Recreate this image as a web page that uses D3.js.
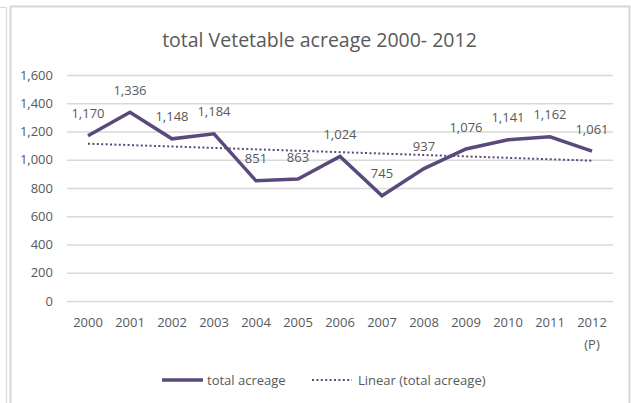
<!DOCTYPE html>
<html>
<head>
<meta charset="utf-8">
<script src="https://cdn.jsdelivr.net/npm/d3@7"></script>
<style>
  html, body { margin: 0; padding: 0; background: #fff; }
  svg { display: block; font-family: "Open Sans", "Noto Sans", sans-serif; }
</style>
</head>
<body>
<svg id="chart" width="631" height="403"></svg>
<script>
// Vegetable acreage by year (thousand acres); 2012 is preliminary
const years = ["2000", "2001", "2002", "2003", "2004", "2005", "2006",
               "2007", "2008", "2009", "2010", "2011", "2012"];
const acreage = [1170, 1336, 1148, 1184, 851, 863, 1024, 745, 937, 1076, 1141, 1162, 1061];
const yearLabels = [["2000"], ["2001"], ["2002"], ["2003"], ["2004"], ["2005"], ["2006"],
                    ["2007"], ["2008"], ["2009"], ["2010"], ["2011"], ["2012", "(P)"]];
const yTicks = [0, 200, 400, 600, 800, 1000, 1200, 1400, 1600];
const titleText = "total Vetetable acreage 2000- 2012";
const seriesName = "total acreage";
const trendName = "Linear (total acreage)";

const lineColor = "#5a4a7c";
const textColor = "#595959";
const gridColor = "#d9d9d9";

const svg = d3.select("#chart");

// Surrounding frames
svg.append("path")
  .attr("d", "M0,7.5 H6.5 V403")
  .attr("fill", "none").attr("stroke", "#d9d9d9").attr("stroke-width", 1.2);
svg.append("path")
  .attr("d", "M10.5,403 V6.5 H629.5 V403")
  .attr("fill", "none").attr("stroke", "#d6d6d6").attr("stroke-width", 2);

const x = d3.scaleBand().domain(years).range([67, 613]);
const y = d3.scaleLinear().domain([0, 1600]).range([301, 75]);
const cx = d => x(d) + x.bandwidth() / 2;

// Title
svg.append("text")
  .attr("x", 319.5).attr("y", 47)
  .attr("text-anchor", "middle")
  .attr("font-size", 19.5)
  .attr("fill", textColor)
  .text(titleText);

// Y axis with gridlines
const yAxis = svg.append("g")
  .attr("transform", "translate(67,0)")
  .call(d3.axisLeft(y).tickValues(yTicks).tickFormat(d3.format(","))
        .tickSize(-(613 - 67)).tickPadding(14));
yAxis.select(".domain").remove();
yAxis.selectAll(".tick line").attr("stroke", gridColor).attr("stroke-width", 1.3);
yAxis.selectAll(".tick text")
  .attr("fill", textColor).attr("font-size", 13)
  .attr("font-family", "\"Open Sans\", \"Noto Sans\", sans-serif");

// X axis category labels
const xAxis = svg.append("g")
  .attr("transform", "translate(0,301)")
  .call(d3.axisBottom(x).tickSize(0).tickFormat(() => ""));
xAxis.select(".domain").remove();
xAxis.selectAll(".tick").each(function(d, i) {
  const t = d3.select(this).select("text")
    .attr("fill", textColor).attr("font-size", 13)
    .attr("font-family", "\"Open Sans\", \"Noto Sans\", sans-serif")
    .attr("y", 0).attr("dy", null);
  yearLabels[i].forEach((line, k) => {
    t.append("tspan").attr("x", 0).attr("y", 25.5 + k * 22.5).text(line);
  });
});

// Least-squares trendline over the series
const idx = acreage.map((_, i) => i);
const mx = d3.mean(idx), my = d3.mean(acreage);
const slope = d3.sum(idx, i => (i - mx) * (acreage[i] - my)) / d3.sum(idx, i => (i - mx) ** 2);
const trendAt = i => my + slope * (i - mx);

svg.append("line")
  .attr("x1", cx(years[0])).attr("y1", y(trendAt(0)))
  .attr("x2", cx(years[years.length - 1])).attr("y2", y(trendAt(years.length - 1)))
  .attr("stroke", lineColor).attr("stroke-width", 2)
  .attr("stroke-dasharray", "2,2.4");

// Main series line
const line = d3.line().x((d, i) => cx(years[i])).y(d => y(d));
svg.append("path")
  .datum(acreage)
  .attr("d", line)
  .attr("fill", "none")
  .attr("stroke", lineColor)
  .attr("stroke-width", 3.5)
  .attr("stroke-linejoin", "miter");

// Value labels above each point
svg.append("g").selectAll("text")
  .data(acreage)
  .join("text")
  .attr("x", (d, i) => cx(years[i]))
  .attr("y", d => y(d) - 17.5)
  .attr("text-anchor", "middle")
  .attr("font-size", 13)
  .attr("fill", textColor)
  .text(d => d3.format(",")(d));

// Legend
const legend = svg.append("g");
legend.append("line")
  .attr("x1", 162).attr("x2", 203).attr("y1", 380).attr("y2", 380)
  .attr("stroke", lineColor).attr("stroke-width", 3.5);
legend.append("text")
  .attr("x", 207).attr("y", 384.5)
  .attr("font-size", 13).attr("fill", textColor)
  .text(seriesName);
legend.append("line")
  .attr("x1", 312).attr("x2", 352).attr("y1", 380).attr("y2", 380)
  .attr("stroke", lineColor).attr("stroke-width", 2)
  .attr("stroke-dasharray", "2,2.4");
legend.append("text")
  .attr("x", 358).attr("y", 384.5)
  .attr("font-size", 13).attr("fill", textColor)
  .text(trendName);
</script>
</body>
</html>
